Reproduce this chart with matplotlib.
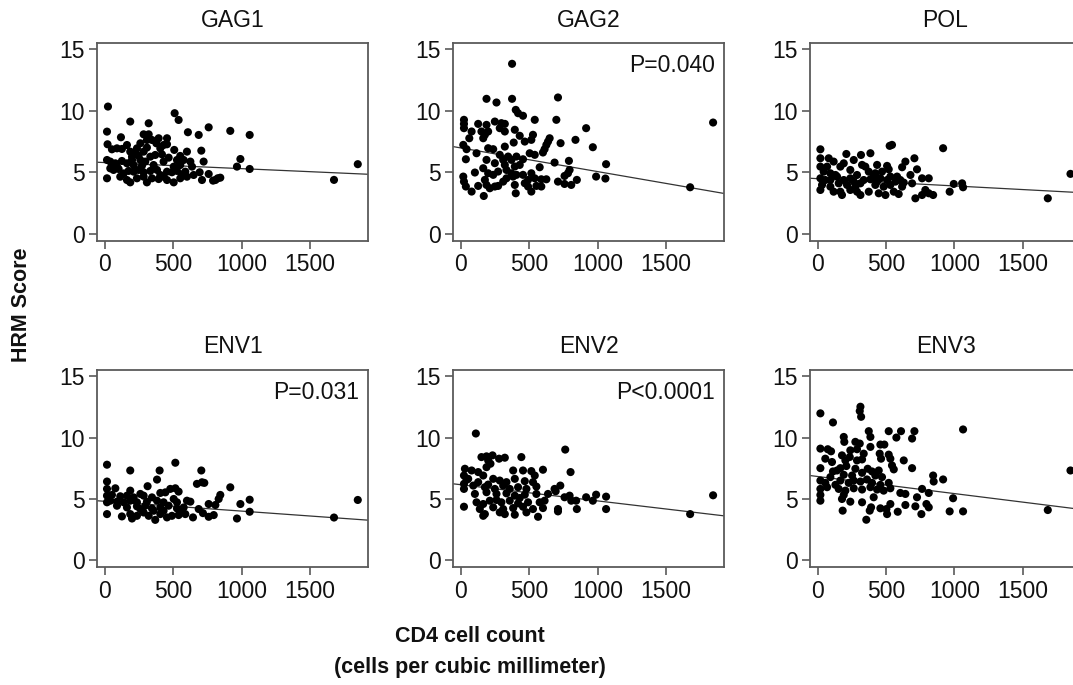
import matplotlib
matplotlib.use("Agg")
import matplotlib.pyplot as plt
import numpy as np

# ---------------- data ----------------
titles = ["GAG1", "GAG2", "POL", "ENV1", "ENV2", "ENV3"]
p_labels = ["", "P=0.040", "", "P=0.031", "P<0.0001", ""]
x_ticks = [0, 500, 1000, 1500]
y_ticks = [0, 5, 10, 15]

# fitted regression lines (intercept, slope)
fit_intercept = [5.79, 6.98, 4.48, 4.81, 6.16, 6.83]
fit_slope = [-0.000494, -0.001924, -0.000591, -0.000797, -0.001316, -0.00139]

gag1_x = [22, 510, 539, 185, 320, 759, 15, 917, 607, 283, 320, 686, 1059, 117, 393, 454, 307, 344,
          259, 376, 19, 161, 429, 454, 88, 51, 124, 234, 307, 405, 283, 185, 222, 507, 551, 600, 705,
          368, 417, 466, 332, 198, 246, 15, 39, 76, 124, 161, 198, 259, 295, 356, 429, 527, 576, 625,
          637, 722, 991, 966, 88, 210, 271, 503, 551, 39, 63, 100, 137, 173, 210, 246, 283, 332, 381,
          405, 454, 490, 527, 564, 588, 1059, 649, 693, 759, 15, 112, 161, 185, 234, 307, 344, 393,
          454, 503, 551, 600, 710, 791, 808, 825, 844, 283, 429, 1676, 1850]
gag1_y = [10.35, 9.81, 9.26, 9.13, 8.99, 8.66, 8.31, 8.37, 8.26, 8.09, 8.09, 8.04, 8.04, 7.85, 7.77,
          7.77, 7.63, 7.63, 7.36, 7.36, 7.28, 7.22, 7.22, 7.28, 6.95, 6.87, 6.90, 6.95, 7.01, 6.95,
          6.68, 6.68, 6.63, 6.82, 6.33, 6.68, 6.76, 6.41, 6.46, 6.19, 6.27, 6.27, 6.35, 6.00, 5.87,
          5.73, 5.92, 5.73, 6.00, 6.00, 5.87, 5.59, 5.87, 6.00, 6.00, 5.87, 5.46, 5.87, 6.08, 5.46,
          5.46, 5.59, 5.54, 5.46, 5.59, 5.32, 5.19, 5.27, 4.91, 5.11, 5.05, 5.19, 5.00, 5.11, 5.19,
          4.78, 5.05, 5.00, 5.11, 4.83, 5.05, 5.27, 4.78, 5.00, 4.86, 4.51, 4.64, 4.37, 4.18, 4.51,
          4.18, 4.51, 4.45, 4.37, 4.18, 4.51, 4.64, 4.37, 4.32, 4.37, 4.51, 4.56, 4.64, 4.64, 4.38,
          5.66]

gag2_x = [374, 187, 260, 374, 710, 401, 418, 454, 540, 698, 22, 22, 22, 916, 126, 187, 248, 296,
          321, 284, 321, 394, 78, 150, 175, 199, 163, 61, 430, 527, 515, 467, 649, 637, 625, 612,
          600, 386, 321, 838, 729, 965, 17, 41, 199, 236, 114, 284, 345, 406, 454, 503, 540, 36,
          187, 248, 309, 369, 321, 333, 394, 430, 576, 685, 790, 1062, 795, 783, 758, 102, 163, 199,
          236, 272, 369, 381, 406, 454, 491, 515, 540, 588, 625, 17, 22, 36, 78, 126, 175, 187, 167,
          211, 248, 272, 309, 333, 394, 401, 467, 491, 515, 552, 588, 710, 758, 807, 848, 989, 1057,
          1677, 1845]
gag2_y = [13.83, 10.98, 10.68, 10.98, 11.09, 10.08, 9.81, 9.60, 9.27, 9.27, 9.27, 8.94, 8.59, 8.59,
          8.94, 8.86, 9.13, 9.00, 8.94, 8.59, 8.32, 8.46, 8.32, 8.32, 8.05, 8.32, 7.77, 7.77, 7.97,
          8.05, 7.64, 7.50, 7.77, 7.50, 7.23, 6.88, 6.61, 7.42, 7.09, 7.64, 7.37, 7.04, 7.23, 6.88,
          6.96, 6.88, 6.55, 6.42, 6.28, 6.28, 6.06, 6.55, 6.42, 6.06, 6.01, 5.74, 6.01, 6.01, 5.60,
          5.19, 5.47, 5.60, 5.41, 5.79, 5.93, 5.66, 5.19, 4.92, 4.70, 4.98, 5.33, 4.92, 4.79, 5.06,
          4.92, 4.65, 4.79, 4.79, 4.38, 4.92, 4.51, 4.43, 4.43, 4.65, 4.24, 3.84, 3.43, 3.89, 4.38,
          3.97, 3.07, 3.70, 3.84, 3.89, 4.24, 4.51, 3.97, 3.29, 4.11, 3.84, 3.43, 3.89, 3.84, 4.24,
          4.05, 3.97, 4.38, 4.65, 4.49, 3.78, 9.05]

pol_x = [20, 527, 544, 918, 210, 317, 386, 20, 81, 117, 191, 264, 325, 642, 708, 618, 727, 20, 44,
         166, 239, 374, 422, 471, 520, 93, 130, 288, 581, 679, 764, 813, 20, 56, 191, 239, 337, 386,
         459, 508, 569, 630, 691, 996, 1057, 1064, 966, 32, 93, 154, 215, 276, 313, 422, 483, 532,
         618, 788, 813, 845, 20, 117, 178, 239, 313, 374, 447, 496, 593, 715, 764, 166, 288, 557,
         69, 349, 435, 508, 93, 142, 264, 410, 435, 532, 605, 1684, 1850]
pol_y = [6.87, 7.15, 7.23, 6.96, 6.49, 6.41, 6.55, 6.14, 6.14, 5.87, 5.73, 6.00, 5.60, 5.87, 6.14,
         5.41, 5.24, 5.46, 5.05, 5.46, 5.19, 5.05, 4.92, 5.05, 5.24, 4.92, 4.78, 4.78, 4.65, 4.78,
         4.51, 4.51, 4.51, 4.37, 4.37, 4.51, 4.37, 4.43, 4.51, 4.37, 4.24, 4.16, 4.10, 4.05, 4.10,
         3.78, 3.42, 3.97, 3.83, 4.10, 3.97, 3.83, 4.10, 3.97, 3.83, 3.97, 3.83, 3.56, 3.29, 3.15,
         3.56, 3.42, 3.15, 3.56, 3.15, 3.42, 3.29, 3.15, 3.23, 2.88, 3.15, 3.42, 3.42, 3.42, 5.46,
         5.46, 5.60, 5.52, 4.37, 4.65, 4.24, 4.65, 4.24, 4.65, 4.37, 2.88, 4.87]

env1_x = [15, 515, 185, 400, 705, 381, 15, 673, 710, 727, 312, 917, 15, 76, 185, 478, 515, 539, 405,
          442, 259, 844, 15, 51, 112, 161, 210, 283, 344, 832, 1059, 991, 1059, 15, 39, 88, 137, 185,
          234, 307, 381, 429, 503, 527, 600, 625, 759, 808, 88, 161, 234, 295, 344, 405, 466, 527,
          576, 686, 15, 124, 185, 234, 283, 320, 368, 405, 454, 490, 539, 588, 644, 717, 759, 796,
          966, 198, 356, 429, 551, 259, 1676, 1850]
env1_y = [7.79, 7.95, 7.32, 7.32, 7.32, 6.58, 6.42, 6.23, 6.36, 6.31, 6.04, 5.95, 5.82, 5.87, 5.68,
          5.82, 5.87, 5.60, 5.49, 5.54, 5.41, 5.33, 5.27, 5.33, 5.22, 5.27, 5.13, 5.27, 5.13, 5.00,
          4.94, 4.59, 3.96, 4.73, 4.86, 4.78, 4.73, 4.86, 4.73, 4.78, 4.86, 4.73, 5.00, 4.73, 4.86,
          4.78, 4.59, 4.51, 4.45, 4.31, 4.40, 4.45, 4.23, 4.31, 4.45, 4.23, 4.31, 4.18, 3.77, 3.58,
          3.77, 3.63, 3.90, 3.63, 3.30, 3.77, 3.50, 3.63, 3.69, 3.77, 3.50, 3.85, 3.55, 3.69, 3.41,
          3.41, 4.04, 4.04, 4.04, 4.18, 3.49, 4.92]

env2_x = [109, 763, 150, 187, 231, 279, 321, 442, 199, 29, 78, 126, 187, 216, 382, 454, 515, 600,
          802, 540, 22, 41, 163, 236, 284, 333, 394, 467, 527, 22, 22, 126, 175, 199, 248, 309, 357,
          418, 479, 552, 685, 727, 693, 102, 187, 260, 333, 394, 467, 552, 637, 758, 795, 916, 989,
          1062, 807, 843, 965, 114, 163, 211, 296, 357, 418, 491, 576, 612, 22, 138, 236, 309, 382,
          454, 527, 600, 710, 848, 1062, 175, 284, 321, 394, 479, 564, 710, 163, 260, 430, 53, 90,
          1677, 1845]
env2_y = [10.33, 9.02, 8.41, 8.47, 8.55, 8.28, 8.36, 8.41, 8.14, 7.46, 7.32, 7.19, 7.59, 7.87, 7.32,
          7.32, 7.27, 7.38, 7.19, 6.91, 6.91, 6.56, 6.91, 6.64, 6.50, 6.37, 6.64, 6.45, 6.37, 6.23,
          5.82, 6.37, 5.96, 6.17, 5.82, 6.09, 5.82, 5.96, 5.82, 6.01, 5.82, 6.09, 5.63, 5.41, 5.55,
          5.41, 5.46, 5.27, 5.35, 5.41, 5.41, 5.14, 5.27, 5.14, 5.35, 5.19, 4.86, 4.86, 4.86, 4.73,
          4.59, 4.86, 4.73, 4.86, 4.64, 4.73, 4.73, 4.86, 4.37, 4.18, 4.32, 4.18, 4.26, 4.37, 4.18,
          4.26, 4.18, 4.18, 4.18, 3.77, 3.91, 3.77, 3.72, 3.91, 3.55, 3.99, 3.63, 4.92, 5.08, 6.64,
          6.09, 3.77, 5.30]

env3_x = [313, 308, 318, 20, 112, 1064, 374, 520, 610, 708, 386, 576, 691, 191, 195, 276, 308, 459,
          488, 386, 20, 74, 98, 239, 288, 178, 337, 454, 520, 56, 105, 203, 235, 288, 325, 464, 532,
          630, 20, 166, 210, 276, 366, 398, 447, 544, 557, 691, 112, 142, 191, 325, 422, 471, 845,
          849, 918, 20, 56, 130, 166, 227, 264, 313, 361, 398, 459, 520, 20, 69, 154, 203, 264, 325,
          386, 435, 483, 532, 605, 642, 764, 813, 991, 20, 191, 178, 239, 325, 410, 532, 642, 727,
          796, 813, 20, 391, 459, 503, 715, 183, 381, 508, 586, 759, 966, 1064, 356, 93, 252,
          1684, 1850]
env3_y = [12.51, 12.16, 11.69, 11.97, 11.23, 10.66, 10.52, 10.52, 10.52, 10.52, 10.05, 10.00, 9.92,
          10.05, 9.65, 9.65, 9.51, 9.43, 9.43, 9.24, 9.10, 9.05, 8.88, 8.96, 9.05, 8.55, 8.69, 8.69,
          8.61, 8.28, 8.01, 8.14, 8.42, 8.14, 8.22, 8.28, 8.28, 8.14, 7.51, 7.51, 7.68, 7.46, 7.46,
          7.24, 7.32, 7.73, 7.41, 7.51, 7.24, 7.32, 6.97, 7.13, 6.91, 6.78, 6.91, 6.42, 6.59, 6.50,
          6.31, 6.15, 6.50, 6.31, 6.50, 6.42, 6.59, 6.31, 6.15, 6.31, 5.82, 5.96, 5.82, 5.68, 5.87,
          5.77, 5.96, 5.77, 5.68, 5.87, 5.49, 5.41, 5.82, 5.49, 5.06, 5.33, 5.33, 5.00, 4.78, 4.73,
          5.14, 4.59, 4.51, 5.14, 4.59, 4.32, 4.86, 4.32, 4.24, 4.18, 4.40, 4.05, 4.05, 3.77, 3.96,
          3.77, 3.99, 3.99, 3.31, 6.78, 6.91, 4.10, 7.32]

panels_x = [gag1_x, gag2_x, pol_x, env1_x, env2_x, env3_x]
panels_y = [gag1_y, gag2_y, pol_y, env1_y, env2_y, env3_y]

# ---------------- figure ----------------
W, H = 1073, 685
fig = plt.figure(figsize=(W / 100, H / 100), dpi=100)
plt.rcParams['font.family'] = ['Liberation Sans', 'DejaVu Sans']

lefts = [97.3, 453.3, 810.0]
tops = [43.3, 370.0]
aw, ah = 271.0, 197.4
spine_col = "#5a5a5a"
fs = 16.5

for i in range(6):
    r, c = divmod(i, 3)
    ax = fig.add_axes([lefts[c] / W, (H - tops[r] - ah) / H, aw / W, ah / H])
    ax.scatter(panels_x[i], panels_y[i], s=34, color="black", edgecolors="none", zorder=3)
    xs = np.array([-56, 1927])
    ax.plot(xs, fit_intercept[i] + fit_slope[i] * xs, color="#333333", lw=0.9, zorder=2)
    ax.set_xlim(-56, 1927)
    ax.set_ylim(-0.57, 15.5)
    ax.set_xticks(x_ticks)
    ax.set_yticks(y_ticks)
    ax.tick_params(direction="out", length=6, width=1.2, color=spine_col,
                   labelsize=fs, labelcolor="#111111", pad=3)
    for s in ax.spines.values():
        s.set_color(spine_col)
        s.set_linewidth(1.3)
    ax.set_title(titles[i], fontsize=fs, pad=12, color="#111111")
    if p_labels[i]:
        ax.text(0.965, 0.945, p_labels[i], transform=ax.transAxes, ha="right", va="top",
                fontsize=fs, color="#111111")

fig.text(22 / W, 1 - 305 / H, "HRM Score", rotation=90, ha="center", va="center",
         fontsize=15.5, fontweight="bold", color="#111111")
fig.text(470 / W, 1 - 636 / H, "CD4 cell count", ha="center", va="center",
         fontsize=15.5, fontweight="bold", color="#111111")
fig.text(470 / W, 1 - 668 / H, "(cells per cubic millimeter)", ha="center", va="center",
         fontsize=15.5, fontweight="bold", color="#111111")

fig.savefig("out.png", dpi=100)
